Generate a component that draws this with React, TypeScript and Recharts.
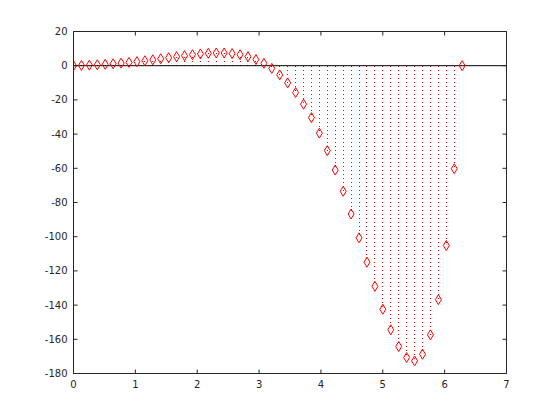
import React from 'react';
import { ComposedChart, Scatter, XAxis, YAxis, ReferenceLine } from 'recharts';

const xValues = [
  0, 0.1282, 0.2565, 0.3847, 0.5129, 0.6411, 0.7694, 0.8976, 1.0258, 1.1541,
  1.2823, 1.4105, 1.5387, 1.667, 1.7952, 1.9234, 2.0517, 2.1799, 2.3081, 2.4363,
  2.5646, 2.6928, 2.821, 2.9493, 3.0775, 3.2057, 3.3339, 3.4622, 3.5904, 3.7186,
  3.8468, 3.9751, 4.1033, 4.2315, 4.3598, 4.488, 4.6162, 4.7444, 4.8727, 5.0009,
  5.1291, 5.2574, 5.3856, 5.5138, 5.642, 5.7703, 5.8985, 6.0267, 6.155, 6.2832,
];
const yValues = [
  0, 0.15, 0.33, 0.55, 0.82, 1.14, 1.5, 1.92, 2.39, 2.9,
  3.46, 4.05, 4.66, 5.27, 5.87, 6.42, 6.9, 7.25, 7.44, 7.41,
  7.09, 6.41, 5.29, 3.65, 1.39, -1.58, -5.36, -10.05, -15.73, -22.48,
  -30.37, -39.43, -49.66, -61.03, -73.43, -86.73, -100.66, -114.9, -129.02, -142.43,
  -154.44, -164.2, -170.66, -172.63, -168.72, -157.37, -136.81, -105.13, -60.25, 0,
];
const xTicks = [0, 1, 2, 3, 4, 5, 6, 7];
const yTicks = [-180, -160, -140, -120, -100, -80, -60, -40, -20, 0, 20];

const data = xValues.map((x, i) => ({ x, y: yValues[i] }));

const AXIS = '#262626';
const TEXT = '#262626';
const FONT = 'DejaVu Sans';
const TL = 4;

const BottomTick = (p: any) => (
  <g>
    <line x1={p.x} y1={p.y} x2={p.x} y2={p.y - TL} stroke={AXIS} />
    <text x={p.x} y={p.y + 14} textAnchor="middle" fill={TEXT} fontSize={10} fontFamily={FONT}>
      {p.payload.value}
    </text>
  </g>
);
const TopTick = (p: any) => (
  <line x1={p.x} y1={p.y} x2={p.x} y2={p.y + TL} stroke={AXIS} />
);
const LeftTick = (p: any) => (
  <g>
    <line x1={p.x} y1={p.y} x2={p.x + TL} y2={p.y} stroke={AXIS} />
    <text x={p.x - 6} y={p.y + 3.5} textAnchor="end" fill={TEXT} fontSize={10} fontFamily={FONT}>
      {p.payload.value}
    </text>
  </g>
);
const RightTick = (p: any) => (
  <line x1={p.x} y1={p.y} x2={p.x - TL} y2={p.y} stroke={AXIS} />
);

const Diamond = (p: any) => {
  const { cx, cy } = p;
  if (cx == null || cy == null) return null;
  const w = 3;
  const h = 5;
  return (
    <path
      d={`M${cx},${cy - h}L${cx + w},${cy}L${cx},${cy + h}L${cx - w},${cy}Z`}
      fill="none"
      stroke="#ff0000"
      strokeWidth={1}
    />
  );
};

export default function App() {
  return (
    <div style={{ position: 'absolute', left: 0, top: 0, width: 560, height: 420, background: '#fff' }}>
      <ComposedChart
        width={560}
        height={420}
        data={data}
        margin={{ top: 21.5, right: 43.5, bottom: 16.5, left: 43.5 }}
      >
        <XAxis
          xAxisId={0}
          dataKey="x"
          type="number"
          domain={[0, 7]}
          ticks={xTicks}
          allowDataOverflow
          height={30}
          tickSize={0}
          tickMargin={0}
          tickLine={false}
          axisLine={{ stroke: AXIS }}
          tick={BottomTick}
        />
        <XAxis
          xAxisId="top"
          orientation="top"
          dataKey="x"
          type="number"
          domain={[0, 7]}
          ticks={xTicks}
          allowDataOverflow
          height={10}
          tickSize={0}
          tickMargin={0}
          tickLine={false}
          axisLine={{ stroke: AXIS }}
          tick={TopTick}
        />
        <YAxis
          yAxisId={0}
          dataKey="y"
          type="number"
          domain={[-180, 20]}
          ticks={yTicks}
          allowDataOverflow
          width={30}
          tickSize={0}
          tickMargin={0}
          tickLine={false}
          axisLine={{ stroke: AXIS }}
          tick={LeftTick}
        />
        <YAxis
          yAxisId="right"
          orientation="right"
          dataKey="y"
          type="number"
          domain={[-180, 20]}
          ticks={yTicks}
          allowDataOverflow
          width={10}
          tickSize={0}
          tickMargin={0}
          tickLine={false}
          axisLine={{ stroke: AXIS }}
          tick={RightTick}
        />
        {data.map((d, i) => (
          <ReferenceLine
            key={i}
            xAxisId={0}
            yAxisId={0}
            segment={[{ x: d.x, y: 0 }, { x: d.x, y: d.y }]}
            stroke="#ff0000"
            strokeDasharray="1 3"
            shapeRendering="crispEdges"
            ifOverflow="visible"
          />
        ))}
        <ReferenceLine xAxisId={0} yAxisId={0} y={0} stroke="#000" strokeWidth={1} />
        <Scatter
          xAxisId={0}
          yAxisId={0}
          data={data}
          dataKey="y"
          shape={Diamond}
          isAnimationActive={false}
        />
      </ComposedChart>
    </div>
  );
}
